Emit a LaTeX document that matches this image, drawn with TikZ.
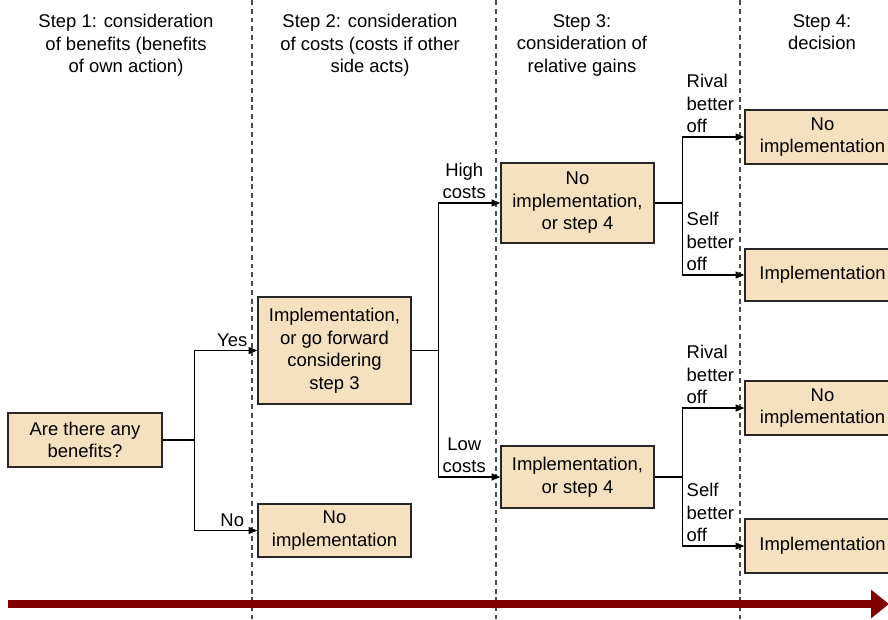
\documentclass[tikz,border=0pt]{standalone}
\usepackage{fontspec}
\setmainfont{Liberation Sans}
\usetikzlibrary{arrows.meta}
\definecolor{boxfill}{RGB}{245,224,192}
\definecolor{timered}{RGB}{128,0,0}

\begin{document}
\begin{tikzpicture}[x=0.02cm, y=-0.02cm,
    font=\fontsize{10.5}{12.8}\selectfont,
    choice/.style={draw=black!85, line width=0.8pt, fill=boxfill, align=center,
        minimum width=3.06cm, inner sep=0pt},
    head/.style={align=center, anchor=north, inner sep=0pt},
    link/.style={-{Triangle[length=5pt,width=4pt]}, line width=0.6pt},
    lbl/.style={align=center, inner sep=2pt},
    side/.style={align=left, anchor=south west, inner sep=2pt},
    stage/.style={black!70, line width=0.6pt, dash pattern=on 2.8pt off 2.2pt}]
    \useasboundingbox (0,0) rectangle (888,619);

    % step separators
    \foreach \x in {252,496,740}
        \draw[stage] (\x,0) -- (\x,619);

    % column headings
    \node[head] (step1) at (126,14) {Step 1: consideration\\of benefits (benefits\\of own action)};
    \node[head] (step2) at (370,14) {Step 2: consideration\\of costs (costs if other\\side acts)};
    \node[head] (step3) at (582,14) {Step 3:\\consideration of\\relative gains};
    \node[head] (step4) at (822,14) {Step 4:\\decision};

    % decision boxes
    \node[choice, minimum width=3.08cm, minimum height=1.08cm] (benefit) at (85,440) {Are there any\\benefits?};
    \node[choice, minimum height=2.14cm] (goon) at (334.5,350.5) {Implementation,\\or go forward\\considering\\step 3};
    \node[choice, minimum height=1.06cm] (noben) at (334.5,530.5) {No\\implementation};
    \node[choice, minimum height=1.6cm] (highc) at (577.5,203) {No\\implementation,\\or step 4};
    \node[choice, minimum height=1.24cm] (lowc) at (577.5,477) {Implementation,\\or step 4};
    \node[choice, minimum width=3.1cm, minimum height=1.08cm] (hiRival) at (822.5,137) {No\\implementation};
    \node[choice, minimum width=3.1cm, minimum height=1.04cm] (hiSelf) at (822.5,275) {Implementation};
    \node[choice, minimum width=3.1cm, minimum height=1.08cm] (loRival) at (822.5,408) {No\\implementation};
    \node[choice, minimum width=3.1cm, minimum height=1.08cm] (loSelf) at (822.5,546) {Implementation};

    % branches
    \draw[link] (benefit.east) -- ++(32,0) |- node[pos=0.8, above, lbl] {Yes} (goon.west);
    \draw[link] (benefit.east) -- ++(32,0) |- node[pos=0.8, above, lbl] {No} (noben.west);
    \draw[link] (goon.east) -- ++(27,0) |- node[pos=0.5, side, align=center] {High\\costs} (highc.west);
    \draw[link] (goon.east) -- ++(27,0) |- node[pos=0.5, side, align=center] {Low\\costs} (lowc.west);
    \draw[link] (highc.east) -- ++(28,0) |- node[pos=0.5, side] {Rival\\better\\off} (hiRival.west);
    \draw[link] (highc.east) -- ++(28,0) |- node[pos=0.5, side] {Self\\better\\off} (hiSelf.west);
    \draw[link] (lowc.east) -- ++(28,0) |- node[pos=0.5, side] {Rival\\better\\off} (loRival.west);
    \draw[link] (lowc.east) -- ++(28,0) |- node[pos=0.5, side] {Self\\better\\off} (loSelf.west);

    % time line
    \draw[timered, line width=4pt, -{Triangle[length=0.36cm,width=0.55cm]}] (8,604) -- (889,604);
\end{tikzpicture}
\end{document}
